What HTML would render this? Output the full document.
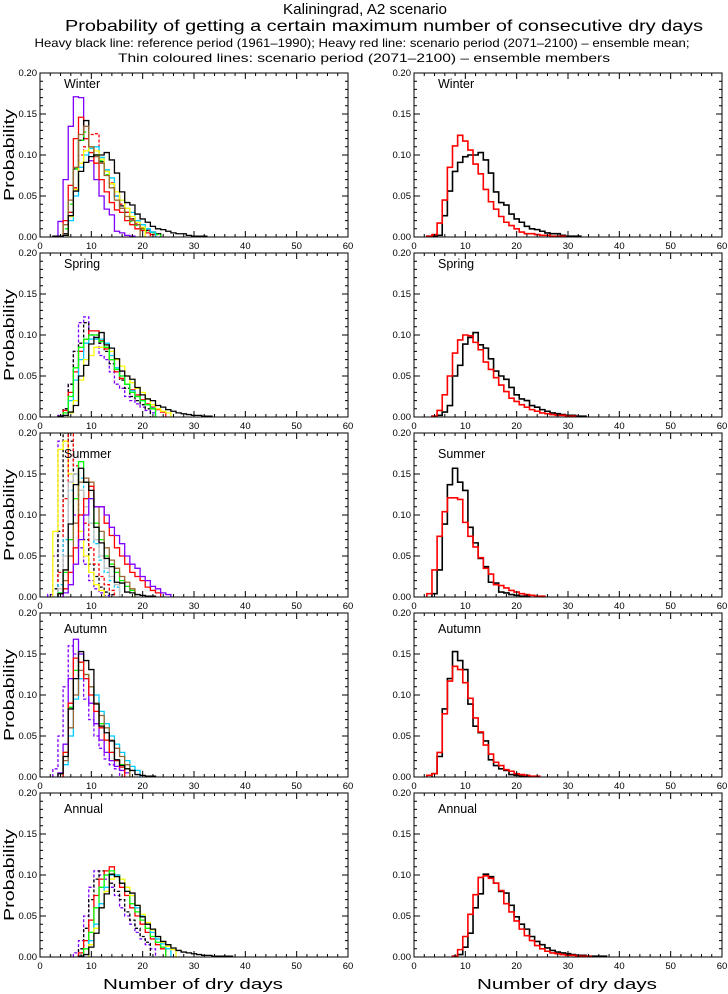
<!DOCTYPE html>
<html><head><meta charset="utf-8"><style>
html,body{margin:0;padding:0;background:#fff}
svg{display:block;font-family:"Liberation Sans",sans-serif}
</style></head><body>
<svg id="chart" width="728" height="994" viewBox="0 0 728 994">
<text x="365" y="14" font-size="15" text-anchor="middle" textLength="164" lengthAdjust="spacingAndGlyphs">Kaliningrad, A2 scenario</text>
<text x="384" y="31" font-size="16" text-anchor="middle" textLength="638" lengthAdjust="spacingAndGlyphs">Probability of getting a certain maximum number of consecutive dry days</text>
<text x="362" y="47" font-size="12" text-anchor="middle" textLength="655" lengthAdjust="spacingAndGlyphs">Heavy black line: reference period (1961–1990); Heavy red line: scenario period (2071–2100) – ensemble mean;</text>
<text x="364" y="62" font-size="12" text-anchor="middle" textLength="492" lengthAdjust="spacingAndGlyphs">Thin coloured lines: scenario period (2071–2100) – ensemble members</text>
<g id="panels"></g>
<text x="193" y="989" font-size="15" text-anchor="middle" textLength="180" lengthAdjust="spacingAndGlyphs">Number of dry days</text>
<text x="567" y="989" font-size="15" text-anchor="middle" textLength="180" lengthAdjust="spacingAndGlyphs">Number of dry days</text>
</svg>
<script>
const seasons = ["Winter","Spring","Summer","Autumn","Annual"];
const xTicks = [0,10,20,30,40,50,60];
const yTicks = ["0.00","0.05","0.10","0.15","0.20"];

// Reference (black) and ensemble mean (red): start day + values
const winterRefStart = 3;
const winterRef = [0.001,0.001,0.002,0.026,0.056,0.08,0.091,0.098,0.1,0.1,0.103,0.094,0.078,0.055,0.042,0.039,0.028,0.022,0.018,0.013,0.01,0.009,0.007,0.005,0.004,0.004,0.002,0.001,0.001,0.001];
const winterMeanStart = 3;
const winterMean = [0.001,0.003,0.017,0.045,0.085,0.111,0.124,0.117,0.106,0.089,0.077,0.058,0.043,0.034,0.025,0.018,0.014,0.01,0.006,0.004,0.004,0.003,0.002,0.002,0.001,0.001,0.001];
const springRefStart = 4;
const springRef = [0.001,0.002,0.006,0.014,0.05,0.063,0.089,0.097,0.103,0.088,0.084,0.071,0.056,0.05,0.046,0.036,0.027,0.022,0.02,0.014,0.012,0.009,0.007,0.005,0.004,0.003,0.002,0.002,0.001,0.001];
const springMeanStart = 4;
const springMean = [0.001,0.008,0.027,0.05,0.078,0.094,0.1,0.099,0.091,0.082,0.067,0.058,0.048,0.039,0.031,0.023,0.019,0.015,0.012,0.009,0.007,0.005,0.004,0.003,0.002,0.002,0.001,0.001];
const summerRefStart = 4;
const summerRef = [0.004,0.033,0.089,0.137,0.157,0.14,0.13,0.085,0.066,0.047,0.037,0.018,0.017,0.006,0.005,0.003,0.002,0.001,0.001];
const summerMeanStart = 3;
const summerMean = [0.004,0.033,0.074,0.104,0.121,0.121,0.119,0.091,0.074,0.061,0.048,0.035,0.028,0.015,0.014,0.011,0.008,0.006,0.004,0.003,0.002,0.001,0.001];
const autumnRefStart = 4;
const autumnRef = [0.004,0.025,0.083,0.12,0.153,0.142,0.131,0.089,0.062,0.054,0.044,0.021,0.014,0.01,0.008,0.003,0.002,0.001,0.001];
const autumnMeanStart = 3;
const autumnMean = [0.002,0.004,0.03,0.077,0.117,0.135,0.131,0.115,0.096,0.072,0.055,0.039,0.028,0.018,0.014,0.009,0.007,0.004,0.003,0.002,0.001,0.001];
const annualRefStart = 8;
const annualRef = [0.001,0.003,0.012,0.029,0.06,0.077,0.101,0.098,0.09,0.08,0.078,0.063,0.049,0.04,0.034,0.025,0.019,0.015,0.011,0.008,0.006,0.005,0.004,0.003,0.002,0.002,0.001,0.001,0.001,0.001];
const annualMeanStart = 8;
const annualMean = [0.001,0.009,0.025,0.052,0.076,0.097,0.099,0.096,0.09,0.081,0.065,0.055,0.044,0.034,0.026,0.02,0.014,0.01,0.007,0.005,0.004,0.003,0.002,0.002,0.001,0.001,0.001];

// Ensemble members (left panels): [colour, dashed, start day, values]
const winterMembers = [
 ["#7f00ff",false,3,[0.0,0.019,0.07,0.135,0.171,0.17,0.12,0.093,0.07,0.05,0.034,0.027,0.007,0.005,0.002,0.001]],
 ["#ff0000",false,5,[0.02,0.063,0.12,0.146,0.12,0.103,0.09,0.07,0.055,0.042,0.033,0.03,0.02,0.015,0.01,0.008,0.005,0.003]],
 ["#000000",false,5,[0.004,0.03,0.083,0.118,0.142,0.11,0.1,0.092,0.08,0.065,0.05,0.038,0.03,0.022,0.015,0.01,0.008,0.006,0.004]],
 ["#00ff00",true,5,[0.01,0.04,0.083,0.118,0.128,0.11,0.1,0.093,0.076,0.06,0.045,0.035,0.025,0.019,0.014,0.01,0.007,0.005,0.003]],
 ["#ff0000",true,6,[0.03,0.06,0.1,0.11,0.125,0.126,0.09,0.08,0.066,0.05,0.04,0.03,0.022,0.016,0.011,0.008]],
 ["#00ccff",false,6,[0.02,0.05,0.085,0.1,0.108,0.11,0.097,0.082,0.072,0.05,0.045,0.035,0.03,0.02,0.015,0.01,0.006]],
 ["#ffff00",false,6,[0.025,0.058,0.09,0.105,0.11,0.105,0.095,0.08,0.065,0.055,0.045,0.035,0.025,0.018,0.012]],
 ["#996633",false,5,[0.015,0.045,0.085,0.125,0.135,0.11,0.098,0.09,0.075,0.06,0.045,0.035,0.025,0.02,0.015]]
];
const springMembers = [
 ["#7f00ff",true,4,[0.002,0.01,0.04,0.08,0.115,0.122,0.1,0.095,0.075,0.07,0.055,0.04,0.035,0.025,0.02,0.016,0.012,0.008,0.005]],
 ["#000000",true,5,[0.01,0.04,0.08,0.09,0.115,0.1,0.1,0.09,0.08,0.065,0.055,0.045,0.035,0.025,0.02,0.015,0.01]],
 ["#ff0000",false,5,[0.008,0.03,0.055,0.08,0.095,0.105,0.105,0.093,0.083,0.07,0.055,0.047,0.04,0.033,0.027,0.021,0.016,0.012,0.009,0.006]],
 ["#00ccff",false,6,[0.02,0.045,0.07,0.09,0.095,0.095,0.095,0.09,0.075,0.06,0.05,0.04,0.032,0.025,0.02,0.015,0.011]],
 ["#ffff00",false,6,[0.005,0.02,0.045,0.07,0.075,0.085,0.085,0.085,0.08,0.07,0.062,0.05,0.042,0.035,0.03,0.022,0.015,0.01,0.007,0.005]],
 ["#00ff00",false,5,[0.005,0.025,0.06,0.085,0.095,0.1,0.1,0.092,0.085,0.07,0.058,0.05,0.04,0.03,0.025,0.02,0.015,0.01]]
];
const summerMembers = [
 ["#7f00ff",true,2,[0.003,0.05,0.19,0.19,0.15,0.1,0.06,0.04,0.02,0.01,0.005,0.002]],
 ["#000000",true,3,[0.01,0.08,0.2,0.19,0.15,0.1,0.07,0.04,0.025,0.012,0.006,0.003]],
 ["#ffff00",false,3,[0.08,0.18,0.19,0.15,0.12,0.08,0.05,0.03,0.015,0.008]],
 ["#ff0000",true,4,[0.03,0.12,0.2,0.16,0.13,0.09,0.06,0.04,0.025,0.015,0.008]],
 ["#00ccff",true,4,[0.015,0.07,0.13,0.15,0.145,0.12,0.09,0.065,0.045,0.03,0.02,0.012]],
 ["#c0c0c0",false,4,[0.01,0.05,0.14,0.15,0.13,0.11,0.09,0.07,0.05,0.035,0.025,0.015]],
 ["#00ff00",false,4,[0.005,0.03,0.07,0.12,0.165,0.14,0.12,0.09,0.07,0.05,0.04,0.03,0.02,0.013,0.008]],
 ["#996633",false,4,[0.004,0.02,0.05,0.09,0.14,0.145,0.14,0.11,0.08,0.06,0.045,0.035,0.025,0.018,0.01]],
 ["#ff0000",false,5,[0.01,0.03,0.06,0.1,0.12,0.135,0.11,0.11,0.09,0.075,0.06,0.05,0.04,0.03,0.025,0.02,0.012,0.008,0.005]],
 ["#7f00ff",false,5,[0.005,0.015,0.04,0.07,0.1,0.12,0.11,0.11,0.1,0.085,0.075,0.065,0.05,0.04,0.035,0.025,0.02,0.013,0.01,0.005,0.003]]
];
const autumnMembers = [
 ["#7f00ff",false,4,[0.005,0.04,0.12,0.168,0.15,0.12,0.09,0.065,0.045,0.03,0.02,0.013,0.008,0.005]],
 ["#7f00ff",true,3,[0.01,0.05,0.11,0.16,0.15,0.12,0.095,0.07,0.05,0.035,0.022,0.015,0.01]],
 ["#00ff00",false,5,[0.03,0.085,0.13,0.14,0.125,0.11,0.09,0.065,0.045,0.03,0.02,0.015,0.01]],
 ["#00ccff",false,5,[0.015,0.05,0.095,0.12,0.12,0.11,0.1,0.08,0.065,0.05,0.04,0.03,0.02,0.013,0.008]],
 ["#996633",false,5,[0.02,0.06,0.1,0.13,0.125,0.11,0.09,0.075,0.06,0.045,0.035,0.025,0.015]],
 ["#ff0000",false,5,[0.03,0.09,0.145,0.14,0.12,0.1,0.08,0.06,0.045,0.03,0.02,0.012]]
];
const annualMembers = [
 ["#7f00ff",true,7,[0.005,0.02,0.05,0.085,0.105,0.1,0.095,0.085,0.075,0.06,0.05,0.04,0.03,0.022,0.015,0.01]],
 ["#000000",true,8,[0.01,0.035,0.07,0.095,0.105,0.1,0.09,0.08,0.07,0.055,0.045,0.035,0.025,0.018]],
 ["#ff0000",false,8,[0.005,0.02,0.045,0.075,0.095,0.105,0.11,0.1,0.085,0.075,0.06,0.05,0.04,0.03,0.022,0.015,0.01]],
 ["#00ff00",false,9,[0.01,0.03,0.06,0.085,0.1,0.105,0.1,0.09,0.08,0.065,0.055,0.045,0.035,0.025,0.018,0.012]],
 ["#00ccff",false,10,[0.02,0.04,0.065,0.085,0.1,0.1,0.095,0.085,0.075,0.06,0.05,0.04,0.03,0.022,0.016,0.01]],
 ["#ffff00",false,10,[0.015,0.035,0.06,0.08,0.095,0.098,0.095,0.085,0.075,0.063,0.052,0.042,0.033,0.025,0.018,0.013,0.009]]
];

const refs = [[winterRefStart,winterRef],[springRefStart,springRef],[summerRefStart,summerRef],[autumnRefStart,autumnRef],[annualRefStart,annualRef]];
const means = [[winterMeanStart,winterMean],[springMeanStart,springMean],[summerMeanStart,summerMean],[autumnMeanStart,autumnMean],[annualMeanStart,annualMean]];
const members = [winterMembers,springMembers,summerMembers,autumnMembers,annualMembers];

const NS = "http://www.w3.org/2000/svg";
const root = document.getElementById("panels");
const colX = [40,414], W = 308, H = 164, top0 = 73, pitch = 180;
function mk(tag, attrs, parent){const e=document.createElementNS(NS,tag);for(const k in attrs)e.setAttribute(k,attrs[k]);parent.appendChild(e);return e;}

function stepPath(sx, sy, start, vals){
  let d = "M"+sx(start-0.5)+","+sy(0);
  vals.forEach((v,i)=>{const day=start+i;d+=" L"+sx(day-0.5)+","+sy(v)+" L"+sx(day+0.5)+","+sy(v);});
  d += " L"+sx(start+vals.length-0.5)+","+sy(0);
  return d;
}

seasons.forEach((s, r) => {
  [0,1].forEach(c => {
    const x0 = colX[c], y0 = top0 + r*pitch;
    const sx = v => x0 + v/60*W;
    const sy = v => y0 + H - v/0.2*H;
    const g = mk("g",{},root);
    
    
    const cp = mk("clipPath",{id:"cp"+r+c},g);
    mk("rect",{x:x0,y:y0,width:W,height:H},cp);
    const series = mk("g",{"clip-path":"url(#cp"+r+c+")"},g);
    if(c===0){
      members[r].forEach((m,i)=>{
        const p = mk("path",{d:stepPath(sx,sy,m[2],m[3]),fill:"none",stroke:m[0],"stroke-width":1.3,"stroke-dasharray":m[1]?"3,2":"none"},series);
        
        
      });
      const pr = mk("path",{d:stepPath(sx,sy,refs[r][0],refs[r][1]),fill:"none",stroke:"#000","stroke-width":1.3},series);
      
      
    } else {
      const pr = mk("path",{d:stepPath(sx,sy,refs[r][0],refs[r][1]),fill:"none",stroke:"#000","stroke-width":1.6},series);
      
      
      const pm = mk("path",{d:stepPath(sx,sy,means[r][0],means[r][1]),fill:"none",stroke:"#f00","stroke-width":1.6},series);
      
      
    }
    const fr = mk("rect",{x:x0,y:y0,width:W,height:H,fill:"none",stroke:"#000","stroke-width":1},g);
    
    
    let td = "";
    for(let v=0; v<=60; v+=2){const x=sx(v), L=(v%10===0)?6:3; td+=`M${x},${y0+H}v${-L}M${x},${y0}v${L}`;}
    for(let k=0;k<=20;k++){const y=sy(k*0.01), L=(k%5===0)?6:3; td+=`M${x0},${y}h${L}M${x0+W},${y}h${-L}`;}
    mk("path",{d:td,stroke:"#000","stroke-width":1,fill:"none"},g);
    xTicks.forEach(t=>{
      const tl = mk("text",{x:sx(t),y:y0+H+12,"font-size":9.5,"text-anchor":"middle"},g);
      tl.textContent = t;
      
      
    });
    yTicks.forEach(t=>{
      const tl = mk("text",{x:x0-3,y:sy(parseFloat(t))+3,"font-size":9.5,"text-anchor":"end"},g);
      tl.textContent = t;
      
      
    });
    const lab = mk("text",{x:x0+24,y:y0+(s==="Summer"?25:(s==="Autumn"||s==="Annual")?20:15),"font-size":12.5},g);
    lab.textContent = s;
    
    
    if(c===0){
      const yt = mk("text",{x:0,y:0,"font-size":15,"text-anchor":"middle",textLength:92,lengthAdjust:"spacingAndGlyphs",transform:`translate(14,${y0+H/2}) rotate(-90)`},g);
      yt.textContent = "Probability";
      
      
    }
  });
});
</script>
</body></html>
